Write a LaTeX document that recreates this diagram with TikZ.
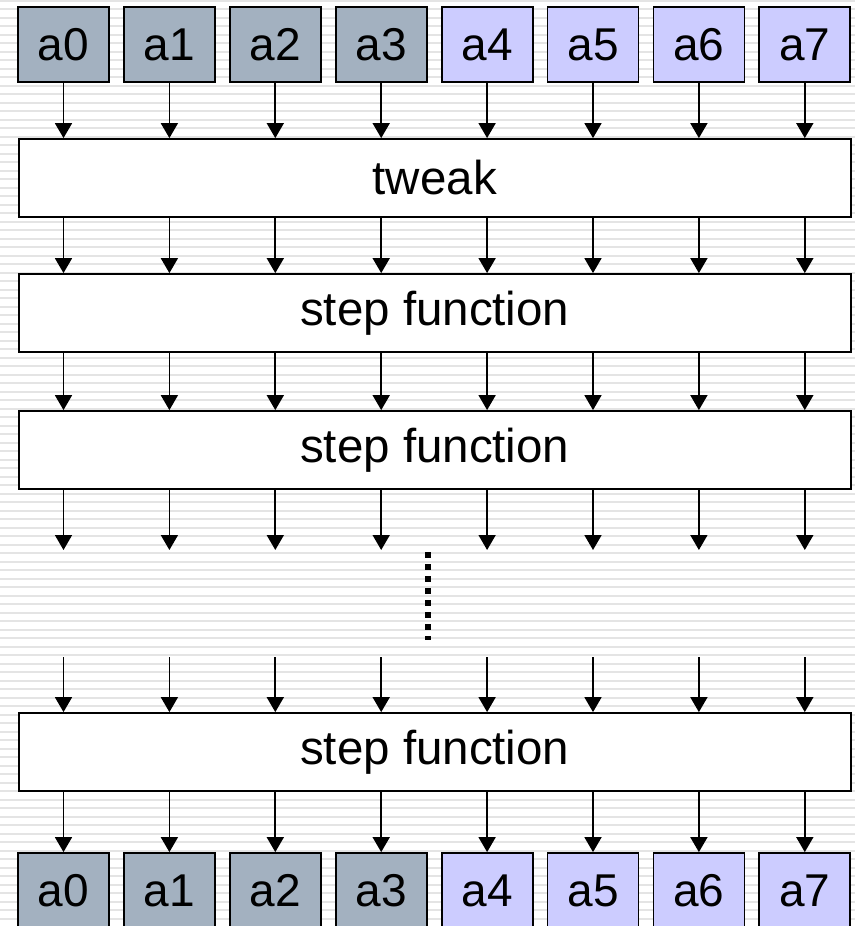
\documentclass[tikz,border=0pt]{standalone}
\usepackage{fontspec}
\setmainfont{Liberation Sans}
\usetikzlibrary{arrows.meta,calc}
\definecolor{graybox}{HTML}{A3B1C0}
\definecolor{lilac}{HTML}{CCCCFF}
\definecolor{stripe}{HTML}{E4E4E4}
\begin{document}
\begin{tikzpicture}[x=1pt,y=-1pt,
  cell/.style={draw=black,line width=1.8pt,minimum width=91pt,minimum height=75pt,inner sep=0pt,
    font=\fontsize{46}{54}\selectfont},
  lowcell/.style={cell,fill=graybox},
  highcell/.style={cell,fill=lilac},
  stage/.style={draw=black,line width=1.8pt,fill=white,minimum width=832pt,minimum height=78pt,inner sep=0pt,
    font=\fontsize{47.5}{56}\selectfont},
  arr/.style={line width=1.7pt,-{Triangle[width=17pt,length=15pt]}},
  dots/.style={line width=6pt,dash pattern=on 6pt off 6pt}]
\useasboundingbox (0,0) rectangle (855,926);
\fill[white] (0,0) rectangle (855,926);
\foreach \k in {0,...,108}{
  \draw[stripe,line width=2pt] (0,{0.7+8.5*\k}) -- (855,{0.7+8.5*\k});
}
% stages
\node[stage] (tw) at (434.75,178) {tweak};
\node[stage] (s1) at (434.75,313) {step function};
\node[stage] (s2) at (434.75,450) {step function};
\node[stage] (s3) at (434.75,752) {step function};
\coordinate (m1) at (434.75,550);
\coordinate (m2) at (434.75,657);
\coordinate (d1) at (428,552);
\coordinate (d2) at (428,640);
% cells
\foreach \i in {0,...,7}{
  \pgfmathsetmacro{\cx}{63.5+105.9*\i}
  \ifnum\i<4
    \node[lowcell] (t\i) at (\cx,44.5) {a\i};
    \node[lowcell] (b\i) at (\cx,890.5) {a\i};
  \else
    \node[highcell] (t\i) at (\cx,44.5) {a\i};
    \node[highcell] (b\i) at (\cx,890.5) {a\i};
  \fi
  \draw[arr] (t\i.south) -- (t\i.south |- tw.north);
  \draw[arr] (tw.south -| t\i) -- (s1.north -| t\i);
  \draw[arr] (s1.south -| t\i) -- (s2.north -| t\i);
  \draw[arr] (s2.south -| t\i) -- (m1 -| t\i);
  \draw[arr] (m2 -| t\i) -- (s3.north -| t\i);
  \draw[arr] (s3.south -| b\i) -- (b\i.north);
}
\draw[dots] (d1) -- (d2);
\end{tikzpicture}
\end{document}
